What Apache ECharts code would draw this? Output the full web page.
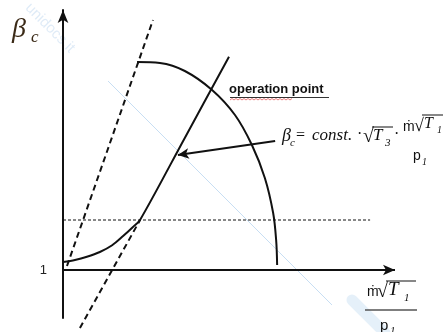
<!DOCTYPE html>
<html><head><meta charset="utf-8">
<script src="https://cdn.jsdelivr.net/npm/echarts@6/dist/echarts.min.js"></script>
<style>html,body{margin:0;padding:0;background:#fff}#c{width:443px;height:332px}</style>
</head><body><div id="c"></div>
<script>
// Compressor map sketch: speed line, operating line, limit lines.
// x: corrected mass flow (arbitrary units), y: pressure ratio beta_c
const yTickValues = [1];
const xAxisSpan = [0, 10];
const axisLevel = 1;

// constant corrected-speed line
const speedX = [2.23, 2.92, 3.67, 4.49, 5.18, 5.69, 6.08, 6.33, 6.42, 6.45];
const speedY = [6.2, 6.175, 5.975, 5.5, 4.875, 4.125, 3.3, 2.425, 1.75, 1.125];

// operating line: curved part near beta_c = 1, then straight
const opX = [0, 0.36, 0.72, 1.11, 1.48, 1.81, 2.1, 2.32, 3.66, 5.0];
const opY = [1.2, 1.25, 1.33, 1.45, 1.62, 1.85, 2.07, 2.25, 4.29, 6.33];

// dashed limit lines
const surgeX = [0.12, 2.71];
const surgeY = [1.1, 7.25];
const chokeX = [0.51, 2.32];
const chokeY = [-0.45, 2.25];

// dotted reference level
const levelX = [0, 9.25];
const levelY = 2.25;

// pointer from the formula to the operating line
const pointerFrom = [6.39, 4.225];
const pointerTo = [3.46, 3.875];

const pts = (xs, ys) => xs.map((x, i) => [x, ys[i]]);
const INK = '#111';
const SERIF = '"Liberation Serif", "DejaVu Serif", serif';
const SANS = '"Liberation Sans", Arial, sans-serif';

function txt(x, y, text, font, fill) {
  return { type: 'text', x: x, y: y, silent: true,
    style: { text: text, font: font, fill: fill || INK, align: 'left', verticalAlign: 'middle' } };
}
function seg(x1, y1, x2, y2, w, color) {
  return { type: 'line', silent: true, shape: { x1: x1, y1: y1, x2: x2, y2: y2 },
    style: { stroke: color || INK, lineWidth: w || 1 } };
}

// red squiggle under the annotation word
const squiggle = [];
for (let x = 230; x <= 292; x += 2) squiggle.push([x, (x / 2) % 2 === 0 ? 98.5 : 100]);

const chart = echarts.init(document.getElementById('c'), null, { renderer: 'canvas' });
chart.setOption({
  animation: false,
  grid: { left: 63, right: 48, top: 10, bottom: 14 },
  xAxis: { type: 'value', min: xAxisSpan[0], max: xAxisSpan[1], show: false },
  yAxis: {
    type: 'value', min: -0.2, max: 7.5,
    axisLine: { show: true, symbol: ['none', 'arrow'], symbolSize: [8, 13],
      lineStyle: { color: INK, width: 2 } },
    axisTick: { show: false },
    splitLine: { show: false },
    axisLabel: { customValues: yTickValues, margin: 16, fontSize: 13,
      fontFamily: SANS, color: '#222' }
  },
  series: [
    { type: 'line', data: pts(speedX, speedY), smooth: 0.35, symbol: 'none',
      lineStyle: { color: INK, width: 2 } },
    { type: 'line', data: pts(opX, opY), smooth: 0.3, symbol: 'none',
      lineStyle: { color: INK, width: 2 } },
    { type: 'line', data: pts(surgeX, surgeY), symbol: 'none', clip: false,
      lineStyle: { color: INK, width: 2, type: [6, 4] } },
    { type: 'line', data: pts(chokeX, chokeY), symbol: 'none', clip: false,
      lineStyle: { color: INK, width: 2, type: [6, 4] } },
    { type: 'line', data: pts(levelX, [levelY, levelY]), symbol: 'none',
      lineStyle: { color: INK, width: 1, type: [3, 2] } },
    { type: 'line', data: [], silent: true,
      markLine: {
        silent: true, animation: false, symbol: ['none', 'arrow'],
        label: { show: false },
        data: [
          [{ coord: [xAxisSpan[0], axisLevel], symbolSize: 0,
             lineStyle: { color: INK, width: 2, type: 'solid' } },
           { coord: [xAxisSpan[1], axisLevel], symbolSize: [8, 12] }],
          [{ coord: pointerFrom, symbolSize: 0,
             lineStyle: { color: INK, width: 2, type: 'solid' } },
           { coord: pointerTo, symbolSize: [8, 11] }]
        ]
      } }
  ],
  graphic: [
    // faint watermark
    { type: 'text', x: 50, y: 28, rotation: -Math.PI / 4, silent: true, z: -1,
      style: { text: 'unidocs.it', font: '15px ' + SANS, fill: 'rgba(150,190,230,0.3)',
        align: 'center', verticalAlign: 'middle' } },
    { type: 'line', silent: true, z: -1, shape: { x1: 108, y1: 81, x2: 332, y2: 305 },
      style: { stroke: 'rgba(175,208,238,0.7)', lineWidth: 1 } },
    { type: 'line', silent: true, z: -1, shape: { x1: 352, y1: 300, x2: 385, y2: 333 },
      style: { stroke: 'rgba(170,205,235,0.3)', lineWidth: 11, lineCap: 'round' } },

    // axis title beta_c
    txt(12, 30, 'β', 'italic 28px ' + SERIF, '#3b2a17'),
    txt(31, 38, 'c', 'italic 17px ' + SERIF, '#3b2a17'),

    // annotation
    txt(229, 89, 'operation point', 'bold 13px ' + SANS),
    seg(230, 97.5, 329, 97.5, 1, '#333'),
    { type: 'polyline', silent: true, shape: { points: squiggle },
      style: { stroke: 'rgba(225,70,70,0.7)', lineWidth: 1, fill: null } },

    // formula
    txt(282, 136, 'β', 'italic 18px ' + SERIF),
    txt(290, 143, 'c', 'italic 11px ' + SERIF),
    txt(296, 136, '=', '16px ' + SERIF),
    txt(312, 136, 'const.', 'italic 17px ' + SERIF),
    txt(357, 135, '·', '16px ' + SERIF),
    txt(363, 137, '√', '20px ' + SERIF),
    seg(372, 127, 393, 127, 1),
    txt(373, 136, 'T', 'italic 17px ' + SERIF),
    txt(385, 143, '3', 'italic 11px ' + SERIF),
    txt(394, 135, '·', '16px ' + SERIF),
    txt(403, 127, 'ṁ', '14px ' + SANS),
    txt(414, 126, '√', '18px ' + SERIF),
    seg(422, 115, 443, 115, 1),
    txt(424, 124, 'T', 'italic 16px ' + SERIF),
    txt(437, 130, '1', 'italic 10px ' + SERIF),
    txt(413, 156, 'p', '14px ' + SANS),
    txt(422, 162, '1', 'italic 10px ' + SERIF),

    // x-axis title
    txt(367, 292, 'ṁ', '14px ' + SANS),
    txt(377, 292, '√', '20px ' + SERIF),
    seg(386, 281, 416, 281, 1),
    txt(388, 290, 'T', 'italic 19px ' + SERIF),
    txt(404, 298, '1', 'italic 11px ' + SERIF),
    seg(365, 310, 417, 310, 1.5, '#555'),
    txt(380, 326, 'p', '15px ' + SANS),
    txt(390, 331, '1', 'italic 11px ' + SERIF)
  ]
});
</script>
</body></html>
